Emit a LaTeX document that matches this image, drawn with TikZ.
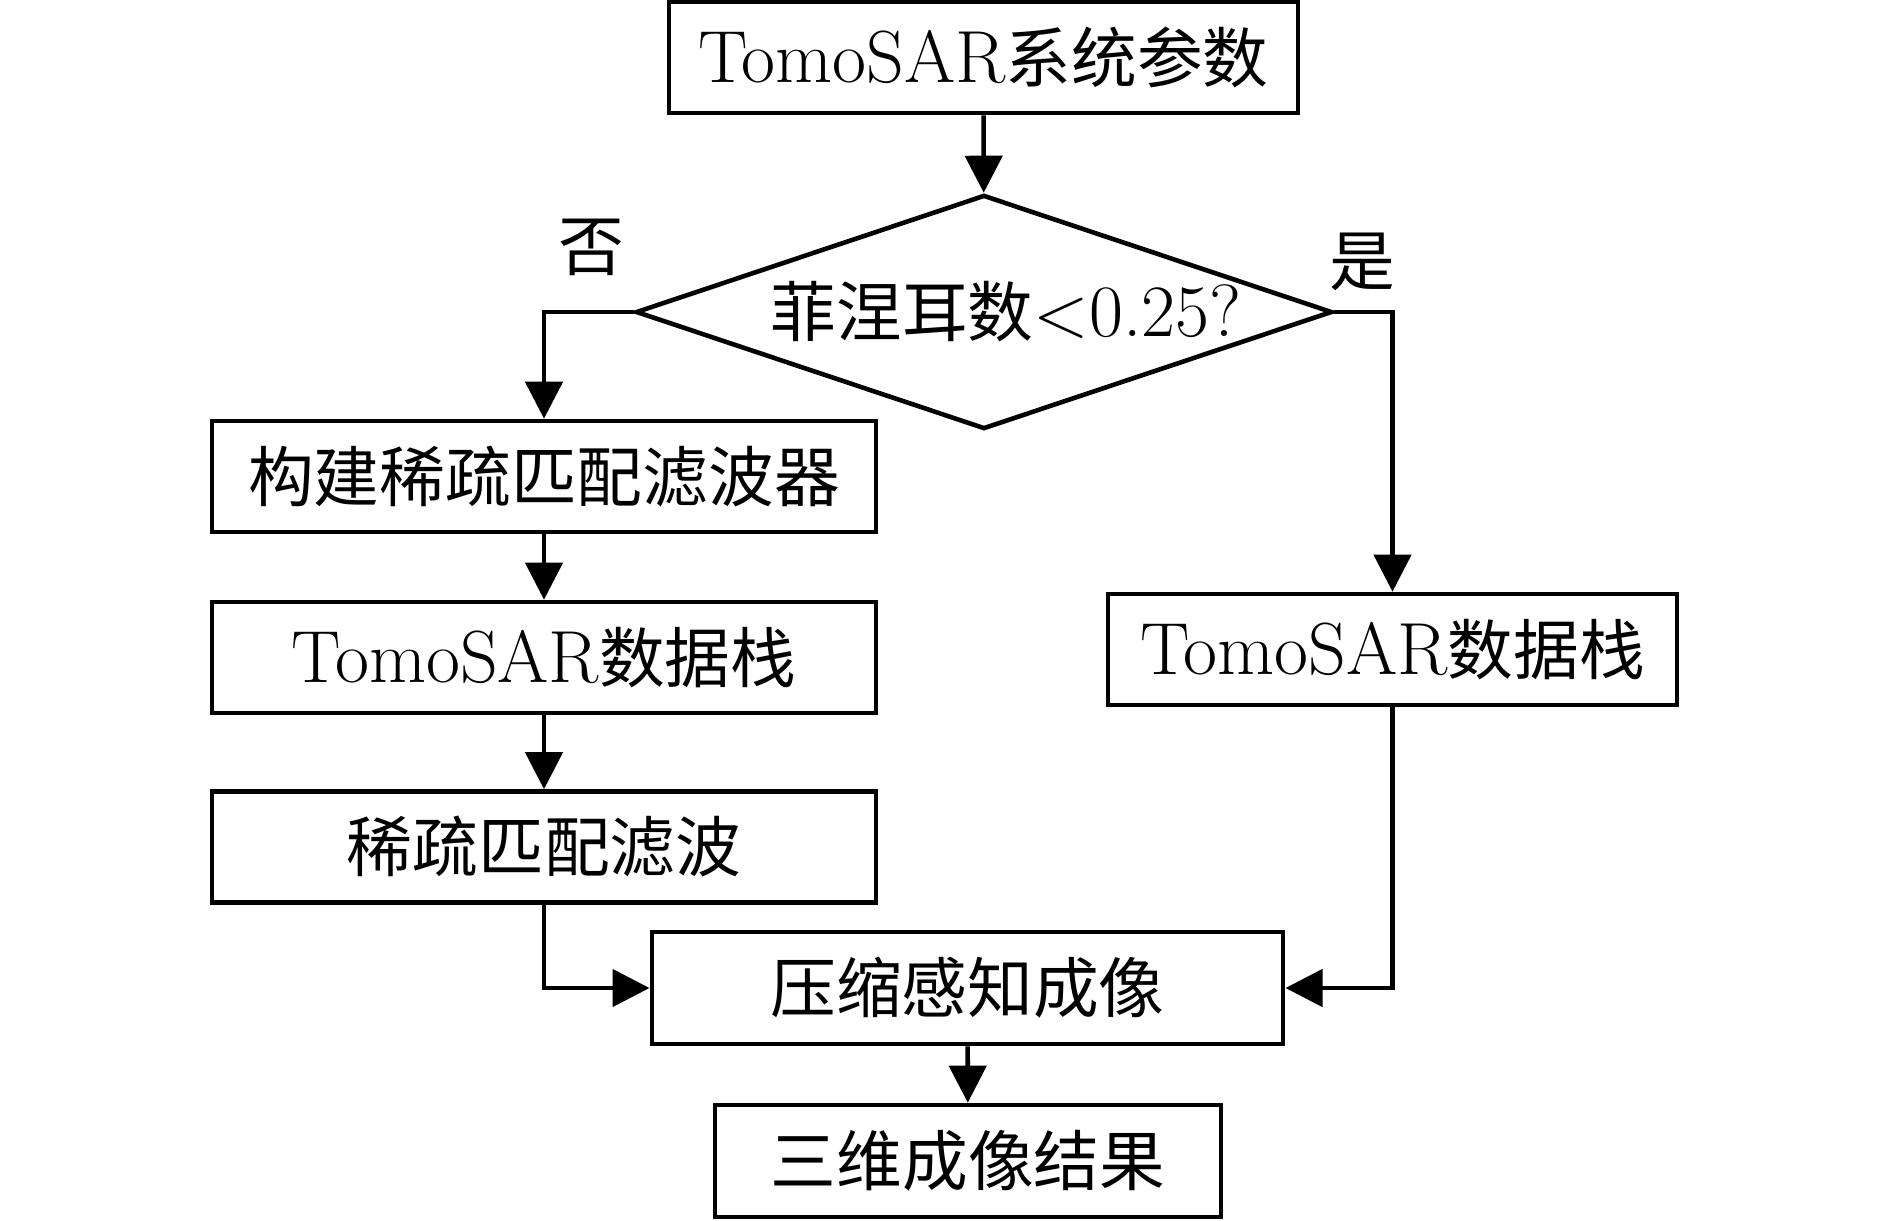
\documentclass[tikz,border=0pt]{standalone}
\usepackage{fontspec}
\newfontfamily\cjk[Scale=0.89]{Noto Sans CJK SC}
\usetikzlibrary{shapes.geometric,arrows.meta}
\begin{document}
\begin{tikzpicture}[
  x=0.01cm, y=-0.01cm,
  line width=1.3pt,
  every node/.style = {font=\fontsize{21pt}{24pt}\selectfont, inner sep=0pt},
  procbox/.style = {shape=rectangle, draw, minimum height=1.11cm},
  decision/.style = {shape=diamond, draw, aspect=2.97, minimum width=6.96cm, minimum height=2.34cm},
  flow/.style = {-{Triangle[length=0.37cm,width=0.37cm]}}
]
  \useasboundingbox (0,0) rectangle (1890,1220);
  % main column
  \node[procbox, minimum width=6.29cm] (params) at (983.5,57.5) {TomoSAR{\cjk 系统参数}};
  \node[decision] (fresnel) at (984,312) {\hspace*{0.44cm}{\cjk 菲涅耳数}$<$0.25?};
  % left branch
  \node[procbox, minimum width=6.64cm] (filter) at (544,476.5) {\cjk 构建稀疏匹配滤波器};
  \node[procbox, minimum width=6.64cm] (stackL) at (544,657.5) {TomoSAR{\cjk 数据栈}};
  \node[procbox, minimum width=6.64cm] (smf) at (544,847) {\cjk 稀疏匹配滤波};
  % right branch
  \node[procbox, minimum width=5.69cm] (stackR) at (1392.5,649.5) {TomoSAR{\cjk 数据栈}};
  % merge
  \node[procbox, minimum width=6.31cm, minimum height=1.12cm] (cs) at (967.5,988) {\cjk 压缩感知成像};
  \node[procbox, minimum width=5.06cm, minimum height=1.12cm] (result) at (968,1161) {\cjk 三维成像结果};
  % branch labels
  \node (no) at (591,247) {\cjk 否};
  \node (yes) at (1362,262) {\cjk 是};
  % connectors
  \draw[flow] (params) -- (fresnel);
  \draw[flow] (fresnel.west) -| (filter.north);
  \draw[flow] (fresnel.east) -| (stackR.north);
  \draw[flow] (filter) -- (stackL);
  \draw[flow] (stackL) -- (smf);
  \draw[flow] (smf.south) |- (cs.west);
  \draw[flow] (stackR.south) |- (cs.east);
  \draw[flow] (cs) -- (result);
\end{tikzpicture}
\end{document}
